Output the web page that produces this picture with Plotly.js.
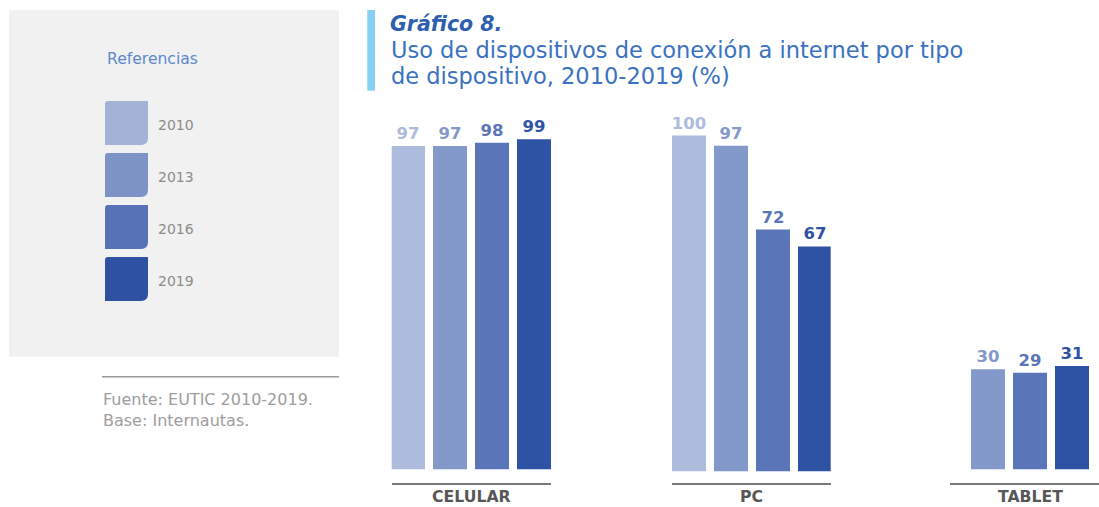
<!DOCTYPE html>
<html>
<head>
<meta charset="utf-8">
<script src="https://cdn.plot.ly/plotly-3.0.1.min.js"></script>
<style>html,body{margin:0;padding:0;background:#fff;}#chart{width:1099px;height:507px;}</style>
</head>
<body>
<div id="chart"></div>
<script>
// ---- data ----
const categories = ["CELULAR", "PC", "TABLET"];
const years = ["2010", "2013", "2016", "2019"];
const v2010 = [97, 100, null];
const v2013 = [97, 97, 30];
const v2016 = [98, 72, 29];
const v2019 = [99, 67, 31];
const series = [v2010, v2013, v2016, v2019];
const titleMain = "Gráfico 8.";
const subtitleLines = ["Uso de dispositivos de conexión a internet por tipo", "de dispositivo, 2010-2019 (%)"];
const legendTitle = "Referencias";
const sourceLines = ["Fuente: EUTIC 2010-2019.", "Base: Internautas."];

// ---- styling / layout constants ----
const W = 1099, H = 507;
const FONT = "DejaVu Sans, sans-serif";
const barColors = ["#adbbdc", "#8399ca", "#5b76b8", "#2f53a4"];
const legColors = ["#a3b3d7", "#7d93c6", "#5773b7", "#2e51a2"];
const fx = p => p / W;
const fy = p => 1 - p / H;

// per-subplot pixel geometry
const geo = [
  {l: 391.7, r: 551, c0: 408, base: 469.3, k: 3.333},
  {l: 671.7, r: 830.7, c0: 689, base: 471.3, k: 3.357},
  {l: 950, r: 1099, c0: 946, base: 469.3, k: 3.333}
];
const SLOT = 42, AXIS_Y = 483, TOP_Y = 105;

const traces = [];
const layout = {
  width: W, height: H,
  margin: {l: 0, r: 0, t: 0, b: 0},
  paper_bgcolor: "#ffffff", plot_bgcolor: "rgba(0,0,0,0)",
  showlegend: false,
  bargap: 8 / 42,
  font: {family: FONT},
  title: {
    text: "<b><i>" + titleMain + "</i></b>",
    font: {family: FONT, size: 20.5, color: "#2d5fae"},
    xref: "container", yref: "container",
    x: fx(390), y: fy(23.5), xanchor: "left", yanchor: "middle"
  },
  shapes: [], annotations: []
};

subtitleLines.forEach((t, j) => {
  layout.annotations.push({xref: "paper", yref: "paper", x: fx(389), y: fy(50 + j * 26),
    xanchor: "left", yanchor: "middle", text: t, showarrow: false,
    font: {family: FONT, size: 22.5, color: "#3a72c1"}});
});

categories.forEach((cat, i) => {
  const g = geo[i];
  const sfx = i === 0 ? "" : String(i + 1);
  const vals = series.map(s => s[i]);
  traces.push({
    type: "bar",
    x: years,
    y: vals,
    xaxis: "x" + sfx, yaxis: "y" + sfx,
    marker: {color: barColors},
    text: vals.map(v => v === null ? "" : String(v)),
    textposition: "outside",
    textfont: {family: FONT, size: 16.5, color: barColors},
    texttemplate: "<b>%{text}</b>",
    constraintext: "none",
    cliponaxis: false,
    hoverinfo: "none"
  });
  layout["xaxis" + sfx] = {
    domain: [fx(g.l), fx(g.r)],
    anchor: "y" + sfx,
    type: "category",
    categoryorder: "array", categoryarray: years,
    range: [(g.l - g.c0) / SLOT, (g.r - g.c0) / SLOT],
    showline: true, linecolor: "#7b7b7b", linewidth: 1.6,
    showticklabels: false, ticks: "", showgrid: false, zeroline: false, fixedrange: true
  };
  layout["yaxis" + sfx] = {
    domain: [fy(AXIS_Y), fy(TOP_Y)],
    anchor: "x" + sfx,
    range: [-(AXIS_Y - g.base) / g.k, (g.base - TOP_Y) / g.k],
    visible: false, fixedrange: true
  };
  layout.annotations.push({
    xref: "paper", yref: "paper",
    x: fx(g.l + 80), y: 0,
    xanchor: "center", yanchor: "bottom", borderpad: 0,
    text: "<b>" + cat + "</b>", showarrow: false,
    font: {family: FONT, size: 15.7, color: "#575757"}
  });
});

// gray reference panel
layout.shapes.push({type: "rect", xref: "paper", yref: "paper", x0: fx(9), x1: fx(339), y0: fy(356.7), y1: fy(10),
  fillcolor: "#f1f1f1", line: {width: 0}, layer: "below"});
// title accent bar
layout.shapes.push({type: "rect", xref: "paper", yref: "paper", x0: fx(367.3), x1: fx(375), y0: fy(90.7), y1: fy(10),
  fillcolor: "#86d1f3", line: {width: 0}});
// source divider
layout.shapes.push({type: "line", xref: "paper", yref: "paper", x0: fx(102), x1: fx(339), y0: fy(376.7), y1: fy(376.7),
  line: {color: "#9c9c9c", width: 1.6}});

layout.annotations.push({xref: "paper", yref: "paper", x: fx(105), y: fy(59), xanchor: "left", yanchor: "middle",
  text: legendTitle, showarrow: false, font: {family: FONT, size: 15.6, color: "#5b89cf"}});

// legend swatches (rounded corners top-left small, bottom-right large)
const SW = 43, SH = 44, SX = 105, SY0 = 101, STEP = 52, R = 7, r = 3;
years.forEach((yr, j) => {
  const x0 = SX, x1 = SX + SW, y0 = SY0 + j * STEP, y1 = y0 + SH;
  const P = (x, y) => fx(x) + "," + fy(y);
  const path = "M" + P(x0, y0 + r) + " Q" + P(x0, y0) + " " + P(x0 + r, y0) +
    " L" + P(x1, y0) + " L" + P(x1, y1 - R) + " Q" + P(x1, y1) + " " + P(x1 - R, y1) +
    " L" + P(x0, y1) + " Z";
  layout.shapes.push({type: "path", xref: "paper", yref: "paper", path: path,
    fillcolor: legColors[j], line: {width: 0}});
  layout.annotations.push({xref: "paper", yref: "paper", x: fx(156), y: fy(y0 + SH / 2 + 2),
    xanchor: "left", yanchor: "middle", text: yr, showarrow: false,
    font: {family: FONT, size: 14, color: "#8c8c8c"}});
});

sourceLines.forEach((t, j) => {
  layout.annotations.push({xref: "paper", yref: "paper", x: fx(101), y: fy(399 + j * 21),
    xanchor: "left", yanchor: "middle", text: t, showarrow: false,
    font: {family: FONT, size: 16, color: "#9d9d9d"}});
});

Plotly.newPlot("chart", traces, layout, {staticPlot: true, displayModeBar: false});
</script>
</body>
</html>
